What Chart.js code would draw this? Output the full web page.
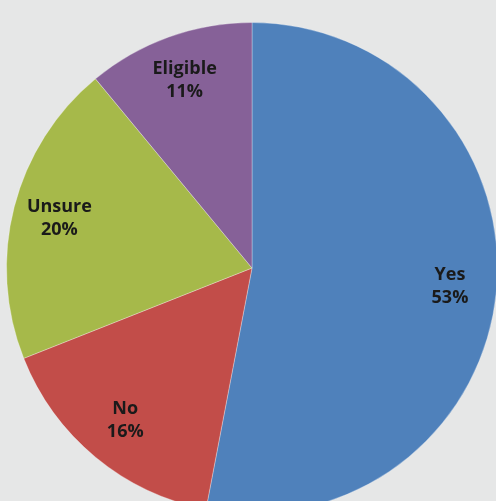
<!DOCTYPE html>
<html>
<head>
<meta charset="utf-8">
<script src="https://cdn.jsdelivr.net/npm/chart.js@4"></script>
<style>
  html, body { margin: 0; padding: 0; width: 496px; height: 501px; overflow: hidden; background: #e6e7e7; }
  #wrap { position: absolute; left: -8px; top: 8px; width: 520px; height: 520px; }
</style>
</head>
<body>
<div id="wrap"><canvas id="pieChart"></canvas></div>
<script>
const labels = ['Yes', 'No', 'Unsure', 'Eligible'];
const values = [53, 16, 20, 11];
const colors = ['#4f81bb', '#c24d49', '#a6b94a', '#866198'];

// draws "Label" and "NN%" inside each slice
const sliceLabels = {
    id: 'sliceLabels',
    afterDatasetsDraw(chart) {
        const ctx = chart.ctx;
        const meta = chart.getDatasetMeta(0);
        ctx.save();
        ctx.fillStyle = '#1a1a1a';
        ctx.font = 'bold 18px "Open Sans", "Noto Sans", sans-serif';
        ctx.textAlign = 'center';
        ctx.textBaseline = 'middle';
        meta.data.forEach((arc, i) => {
            const p = arc.getProps(['x', 'y', 'startAngle', 'endAngle', 'outerRadius'], true);
            const mid = (p.startAngle + p.endAngle) / 2;
            const r = p.outerRadius * 0.81;
            const x = p.x + Math.cos(mid) * r;
            const y = p.y + Math.sin(mid) * r;
            ctx.fillText(labels[i], x, y - 12);
            ctx.fillText(values[i] + '%', x, y + 11);
        });
        ctx.restore();
    }
};

const ctx = document.getElementById('pieChart').getContext('2d');
new Chart(ctx, {
    type: 'pie',
    data: {
        labels: labels,
        datasets: [{
            data: values,
            backgroundColor: colors,
            borderColor: 'rgba(255,255,255,0.3)',
            borderWidth: 1
        }]
    },
    options: {
        responsive: true,
        maintainAspectRatio: false,
        animation: false,
        layout: { padding: 14 },
        plugins: {
            legend: { display: false },
            tooltip: { enabled: false }
        }
    },
    plugins: [sliceLabels]
});
</script>
</body>
</html>
